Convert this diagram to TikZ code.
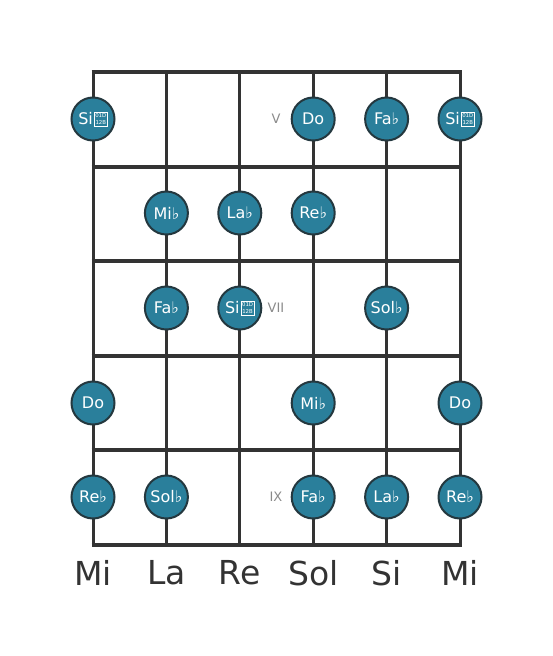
\documentclass[tikz,border=0pt]{standalone}
\usepackage{fontspec}
\setmainfont{DejaVu Sans}
\definecolor{notefill}{HTML}{2A7F9B}
\definecolor{noteedge}{HTML}{24383F}
\definecolor{gridgray}{HTML}{333333}
\definecolor{fretgray}{HTML}{8A8A8A}
% double flat, shown as the font's missing-glyph box
\newcommand{\dblflatbox}{\kern1pt\raisebox{-0.3pt}{{\setlength{\fboxsep}{0.9pt}\setlength{\fboxrule}{0.5pt}%
  \fbox{\fontsize{5.4}{5.4}\selectfont\shortstack{01D\\[0.8pt]12B}}}}}
\tikzset{
  note/.style={circle, draw=noteedge, line width=2pt, fill=notefill,
    minimum size=43pt, inner sep=0pt, text=white,
    font=\fontsize{16}{16}\selectfont},
  fretno/.style={text=fretgray, font=\fontsize{13}{13}\selectfont},
  stringname/.style={text=gridgray, font=\fontsize{33}{33}\selectfont},
}
\begin{document}
\begin{tikzpicture}[x=1pt, y=-1pt]
  \useasboundingbox (0,0) rectangle (553,656);

  % strings
  \foreach \s/\x in {1/93, 2/166.4, 3/239.8, 4/313.2, 5/386.6, 6/460} {
    \coordinate (top\s) at (\x,72);
    \coordinate (bot\s) at (\x,545);
    \draw[gridgray, line width=3pt] (top\s) -- (bot\s);
  }
  % frets
  \foreach \f/\y in {0/72, 1/166.6, 2/261.2, 3/355.8, 4/450.4, 5/545} {
    \draw[gridgray, line width=4pt] (91.5,\y) -- (461.5,\y);
  }

  % fret numbers
  \node[fretno] (fretV)   at (276,119) {V};
  \node[fretno] (fretVII) at (276,308) {VII};
  \node[fretno] (fretIX)  at (276,497) {IX};

  % notes
  \node[note] (n11) at (93,119)    {Si\dblflatbox};
  \node[note] (n14) at (313.2,119) {Do};
  \node[note] (n15) at (386.6,119) {Fa♭};
  \node[note] (n16) at (460,119)   {Si\dblflatbox};

  \node[note] (n22) at (166.4,213) {Mi♭};
  \node[note] (n23) at (239.8,213) {La♭};
  \node[note] (n24) at (313.2,213) {Re♭};

  \node[note] (n32) at (166.4,308) {Fa♭};
  \node[note] (n33) at (239.8,308) {Si\dblflatbox};
  \node[note] (n35) at (386.6,308) {Sol♭};

  \node[note] (n41) at (93,403)    {Do};
  \node[note] (n44) at (313.2,403) {Mi♭};
  \node[note] (n46) at (460,403)   {Do};

  \node[note] (n51) at (93,497)    {Re♭};
  \node[note] (n52) at (166.4,497) {Sol♭};
  \node[note] (n54) at (313.2,497) {Fa♭};
  \node[note] (n55) at (386.6,497) {La♭};
  \node[note] (n56) at (460,497)   {Re♭};

  % open strings
  \node[stringname] (s1) at (93,573)    {Mi};
  \node[stringname] (s2) at (166.4,573) {La};
  \node[stringname] (s3) at (239.8,573) {Re};
  \node[stringname] (s4) at (313.2,573) {Sol};
  \node[stringname] (s5) at (386.6,573) {Si};
  \node[stringname] (s6) at (460,573)   {Mi};
\end{tikzpicture}
\end{document}
